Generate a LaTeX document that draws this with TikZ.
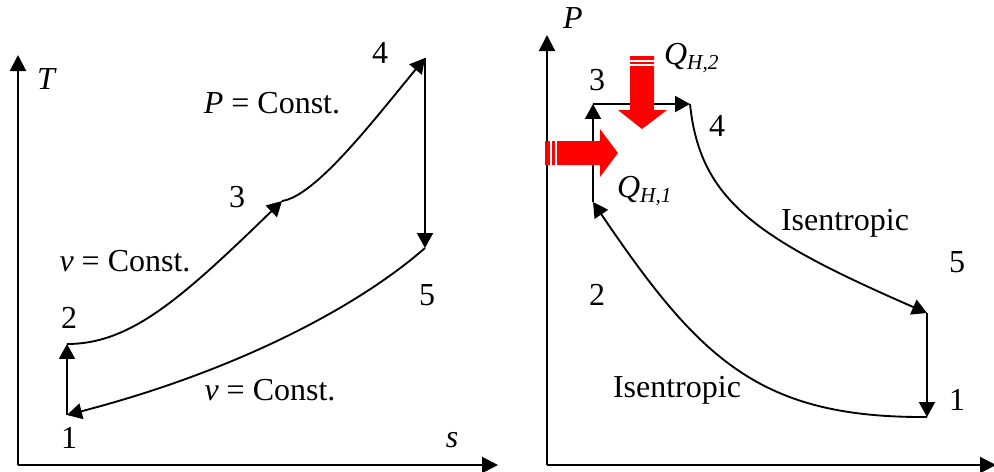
\documentclass[tikz,border=0pt]{standalone}
\usepackage{fontspec}
\setmainfont{Liberation Serif}
\usetikzlibrary{arrows.meta}

\begin{document}
\begin{tikzpicture}[x=0.375pt, y=-0.375pt,
  axis/.style={line width=0.8pt, -{Triangle[length=6pt,width=6pt]}},
  arr/.style={line width=0.7pt, -{Triangle[length=5.6pt,width=6pt]}},
  lbl/.style={inner sep=0pt, font=\fontsize{12}{14}\selectfont},
  heat/.style={fill=red}]
  \useasboundingbox (0,0) rectangle (994,471);
  % T-s diagram
  \coordinate (To) at (18,465);
  \coordinate (Ty) at (18,55);
  \coordinate (Tx) at (498,465);
  \draw[axis] (To) -- (Ty);
  \draw[axis] (To) -- (Tx);
  \coordinate (t1) at (67,415);
  \coordinate (t2) at (67,344);
  \coordinate (t3) at (282,201);
  \coordinate (t4) at (425,58);
  \coordinate (t5) at (425,248);
  \draw[arr] (t1) -- (t2);
  \draw[arr] (t2) .. controls (130,344) and (180,300) .. (t3);
  \draw[arr] (t3) .. controls (315,196) and (370,125) .. (t4);
  \draw[arr] (t4) -- (t5);
  \draw[arr] (t5) .. controls (360,305) and (240,370) .. (t1);
  \node[lbl] (tT) at (47,79) {\textit{T}};
  \node[lbl] (ts) at (452,440) {\textit{s}};
  \node[lbl] (n1) at (69,438) {1};
  \node[lbl] (n2) at (69,318) {2};
  \node[lbl] (n3) at (237,197) {3};
  \node[lbl] (n4) at (380,53) {4};
  \node[lbl] (n5) at (427,295) {5};
  \node[lbl] (pc) at (272,103) {\textit{P} = Const.};
  \node[lbl] (vc1) at (125,261) {\textit{v} = Const.};
  \node[lbl] (vc2) at (270,390) {\textit{v} = Const.};
  % P-v diagram
  \coordinate (Po) at (547,465);
  \coordinate (Py) at (547,35);
  \coordinate (Px) at (996,465);
  \draw[axis] (Po) -- (Py);
  \draw[axis] (Po) -- (Px);
  \coordinate (p1) at (927,417);
  \coordinate (p2) at (593,202);
  \coordinate (p3) at (593,104);
  \coordinate (p4) at (690,104);
  \coordinate (p5) at (927,313);
  \draw[arr] (p1) .. controls (760,418) and (700,360) .. (p2);
  \draw[arr] (p2) -- (p3);
  \draw[arr] (p3) -- (p4);
  \draw[arr] (p4) .. controls (700,200) and (755,238) .. (p5);
  \draw[arr] (p5) -- (p1);
  \node[lbl] (pP) at (573,18) {\textit{P}};
  \node[lbl] (m1) at (957,400) {1};
  \node[lbl] (m2) at (597,295) {2};
  \node[lbl] (m3) at (597,80) {3};
  \node[lbl] (m4) at (717,126) {4};
  \node[lbl] (m5) at (957,262) {5};
  \node[lbl] (is1) at (845,223) {Isentropic};
  \node[lbl] (is2) at (677,390) {Isentropic};
  \node[lbl] (q1) at (645,191) {\textit{Q}\textsubscript{\textit{H,1}}};
  \node[lbl] (q2) at (692,58) {\textit{Q}\textsubscript{\textit{H,2}}};
  % heat input arrows
  \fill[heat] (545,141) -- (600,141) -- (600,129) -- (618,153) -- (600,177)
    -- (600,165) -- (545,165) -- cycle;
  \fill[white] (550,141) rectangle (552,165);
  \fill[white] (555,141) rectangle (557,165);
  \fill[heat] (630,56) -- (654,56) -- (654,110) -- (667,110) -- (642,129)
    -- (618,110) -- (630,110) -- cycle;
  \fill[white] (630,60) rectangle (654,62);
  \fill[white] (630,64) rectangle (654,66);
\end{tikzpicture}
\end{document}
